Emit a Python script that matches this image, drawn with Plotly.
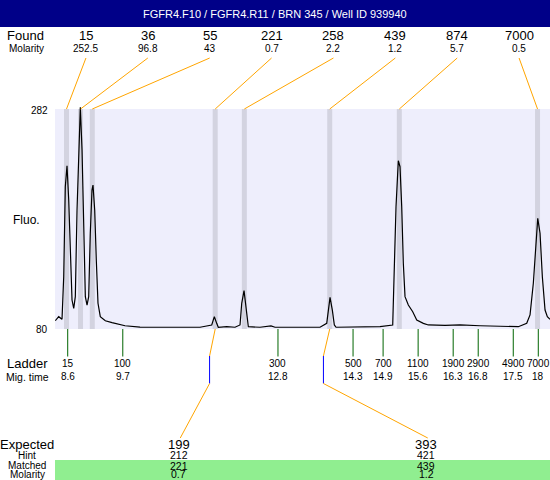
import plotly.graph_objects as go

# ---------------- data ----------------
title_text = "FGFR4.F10 / FGFR4.R11 / BRN 345 / Well ID 939940"

found_sizes = [15, 36, 55, 221, 258, 439, 874, 7000]
found_molarity = [252.5, 96.8, 43, 0.7, 2.2, 1.2, 5.7, 0.5]
found_times = [8.576, 8.856, 9.091, 11.546, 12.128, 13.834, 15.224, 17.985]

ladder_sizes = [15, 100, 300, 500, 700, 1100, 1900, 2900, 4900, 7000]
ladder_times = [8.6, 9.7, 12.8, 14.3, 14.9, 15.6, 16.3, 16.8, 17.5, 18]

expected_sizes = [199, 393]
expected_times = [11.434, 13.708]
hint_sizes = [212, 421]
matched_sizes = [221, 439]
matched_molarity = [0.7, 1.2]
matched_times = [11.546, 13.834]

trace_time = [8.352, 8.420, 8.486, 8.520, 8.552, 8.586, 8.620, 8.652, 8.686, 8.720,
              8.752, 8.786, 8.820, 8.852, 8.886, 8.920, 8.952, 8.986, 9.019, 9.051,
              9.085, 9.105, 9.139, 9.171, 9.205, 9.251, 9.351, 9.485, 9.619, 9.745,
              10.044, 10.644, 11.243, 11.477, 11.529, 11.576, 11.608, 11.776, 11.942, 12.042,
              12.076, 12.122, 12.162, 12.208, 12.441, 12.661, 12.741, 13.240, 13.640, 13.774,
              13.806, 13.840, 13.886, 13.926, 13.960, 14.439, 14.839, 15.092, 15.118, 15.158,
              15.204, 15.238, 15.272, 15.304, 15.338, 15.404, 15.492, 15.572, 15.704, 15.803,
              16.137, 16.437, 16.837, 17.236, 17.601, 17.769, 17.835, 17.901, 17.949, 17.989,
              18.035, 18.081, 18.135, 18.181, 18.235]
trace_fluo = [87.6, 91.3, 88.9, 128.0, 210.7, 229.9, 198.4, 143.4, 106.6, 99.0,
              109.7, 189.3, 244.3, 283.5, 244.3, 167.9, 109.7, 102.0, 109.7, 167.9,
              207.6, 212.2, 189.3, 143.4, 103.6, 91.3, 87.6, 85.8, 84.6, 83.0,
              81.8, 81.6, 81.6, 83.7, 91.3, 85.2, 81.6, 82.1, 81.6, 83.7,
              103.6, 115.2, 100.5, 82.1, 81.6, 82.8, 81.6, 81.6, 81.6, 85.2,
              97.4, 109.1, 97.4, 83.7, 81.6, 81.6, 82.1, 83.7, 128.0, 192.3,
              234.5, 229.0, 192.3, 140.3, 109.7, 102.0, 95.9, 88.3, 85.2, 83.7,
              83.4, 83.7, 83.0, 82.8, 82.1, 85.2, 92.9, 122.0, 158.7, 181.6,
              167.9, 128.0, 97.4, 91.3, 88.9]

fluo_min, fluo_max = 80, 282

# ---------------- layout helpers ----------------
W, H = 550, 480
L, R, T, B = 55, 550, 107, 329          # plot box in pixels
XMIN, XMAX = 8.346, 18.234
YMIN = fluo_min
YMAX = fluo_min + (B - T) * (fluo_max - fluo_min) / (B - 109)

def px(x):
    return (x - L) / (R - L)

def py(y):
    return (B - y) / (B - T)

def tx(t):
    return (t - XMIN) / (XMAX - XMIN)

FONT = "Arial, Liberation Sans, sans-serif"
ORANGE = "#FFA500"
shapes = []
ann = []

def text(x, y, s, size, color="black", xanchor="center"):
    ann.append(dict(x=px(x), y=py(y), xref="paper", yref="paper", text=s,
                    showarrow=False, xanchor=xanchor, yanchor="middle",
                    borderpad=0,
                    font=dict(family=FONT, size=size, color=color)))

def line(x0, y0, x1, y1, color, width=1):
    shapes.append(dict(type="line", xref="paper", yref="paper",
                       x0=x0, y0=y0, x1=x1, y1=y1,
                       line=dict(color=color, width=width)))

# background of the plot region
shapes.append(dict(type="rect", xref="paper", yref="y", x0=0, x1=1,
                   y0=fluo_min, y1=fluo_max, fillcolor="#EEEEFC",
                   line=dict(width=0), layer="below"))
# found peak bands
for t in found_times:
    shapes.append(dict(type="rect", xref="x", yref="y", x0=t - 0.05, x1=t + 0.05,
                       y0=fluo_min, y1=fluo_max, fillcolor="#D3D3E0",
                       line=dict(width=0), layer="below"))
# header
shapes.append(dict(type="rect", xref="paper", yref="paper", x0=px(0), x1=px(551),
                   y0=py(27), y1=py(-1), fillcolor="#000088", line=dict(width=0)))
text(275, 14, title_text, 11, color="white")

# found rows
text(25, 36, "Found", 13)
text(26, 48.5, "Molarity", 10)
n = len(found_sizes)
for i, (s, m, t) in enumerate(zip(found_sizes, found_molarity, found_times)):
    lx = L + (R - L) * (i + 0.5) / n
    text(lx, 36, str(s), 13)
    text(lx, 48.5, str(m), 10)
    line(px(lx), py(58), tx(t), py(109), ORANGE)

# y labels
text(49, 110, str(fluo_max), 10, xanchor="right")
text(49, 329, str(fluo_min), 10, xanchor="right")
text(26, 220, "Fluo.", 12)

# ladder
text(27, 363.5, "Ladder", 13)
text(27, 376.5, "Mig. time", 10.5)
for s, t in zip(ladder_sizes, ladder_times):
    line(tx(t), py(329), tx(t), py(356.5), "#006400")
    x = L + tx(t) * (R - L)
    text(x, 363.5, str(s), 10)
    text(x, 376.5, str(t), 10)

# expected / matched
shapes.append(dict(type="rect", xref="paper", yref="paper", x0=px(55), x1=px(551),
                   y0=py(481), y1=py(460), fillcolor="#90EE90", line=dict(width=0),
                   layer="below"))
text(27, 444, "Expected", 13)
text(27, 455, "Hint", 10)
text(27, 465.5, "Matched", 10)
text(27, 474.5, "Molarity", 10)
m_n = len(expected_sizes)
for i in range(m_n):
    lx = L + (R - L) * (i + 0.5) / m_n
    text(lx, 444, str(expected_sizes[i]), 13)
    text(lx, 455, str(hint_sizes[i]), 10.5)
    text(lx, 465.5, str(matched_sizes[i]), 10.5)
    text(lx, 474.5, str(matched_molarity[i]), 10.5)
    et = tx(expected_times[i])
    line(tx(matched_times[i]), py(329), et, py(356), ORANGE)
    line(et, py(356), et, py(383.5), "#0000FF")
    line(et, py(383.5), px(lx + 1.5), py(438), ORANGE)

fig = go.Figure()
fig.add_trace(go.Scatter(x=trace_time, y=trace_fluo, mode="lines",
                         line=dict(color="black", width=1.2), hoverinfo="skip"))
fig.update_layout(
    width=W, height=H,
    margin=dict(l=L, r=W - R, t=T, b=H - B, pad=0),
    paper_bgcolor="white", plot_bgcolor="white",
    showlegend=False,
    xaxis=dict(range=[XMIN, XMAX], visible=False, fixedrange=True),
    yaxis=dict(range=[YMIN, YMAX], visible=False, fixedrange=True),
    shapes=shapes, annotations=ann,
)
fig.write_html("out.html", config={"displayModeBar": False},
               post_script="document.body.style.margin='0';document.body.style.overflow='hidden';")
